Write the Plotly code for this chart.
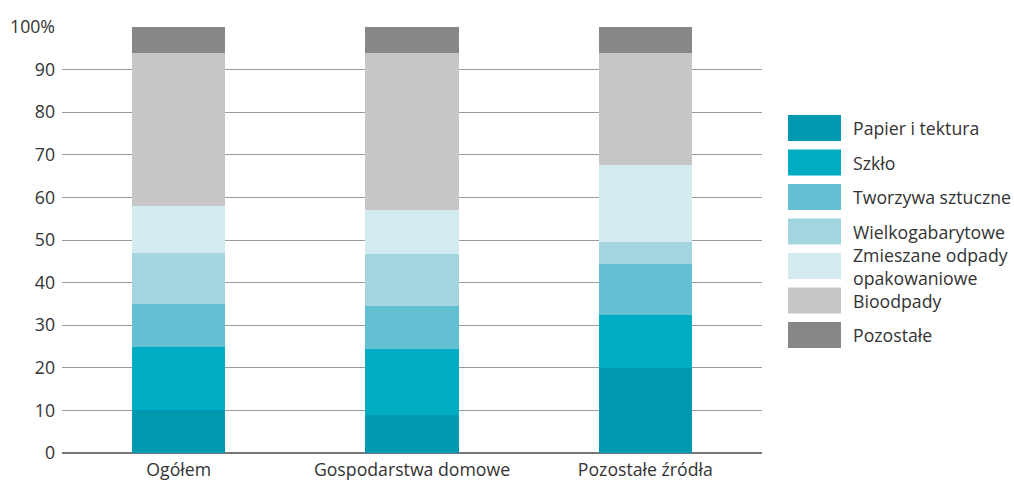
import plotly.graph_objects as go

categories = ["Ogółem", "Gospodarstwa domowe", "Pozostałe źródła"]
series_names = ["Papier i tektura", "Szkło", "Tworzywa sztuczne", "Wielkogabarytowe",
                "Zmieszane odpady<br>opakowaniowe", "Bioodpady", "Pozostałe"]
papier = [10, 9, 20]
szklo = [15, 15.4, 12.3]
tworzywa = [10, 10.2, 12]
wielko = [12, 12.2, 5.2]
zmieszane = [11, 10.3, 18.1]
bio = [36, 36.9, 26.4]
pozostale = [6, 6, 6]
series_values = [papier, szklo, tworzywa, wielko, zmieszane, bio, pozostale]
colors = ["#0099b0", "#00abc4", "#62c0d2", "#a3d5e1", "#d3eaf1", "#c6c6c6", "#878787"]
tick_vals = [0, 10, 20, 30, 40, 50, 60, 70, 80, 90, 100]
tick_text = ["0", "10", "20", "30", "40", "50", "60", "70", "80", "90", "100%"]

FONT = "Open Sans"
FS = 17.7
fig = go.Figure()
for name, vals, col in zip(series_names, series_values, colors):
    fig.add_trace(go.Bar(x=categories, y=vals, name=name.replace("<br>", " "), marker_color=col,
                         marker_line_width=0, showlegend=False))

W, H = 1014, 484
ml, mr, mt, mb = 62, 252, 27, 31
fig.update_layout(
    width=W, height=H, barmode="stack", bargap=0.6,
    margin=dict(l=ml, r=mr, t=mt, b=mb),
    paper_bgcolor="white", plot_bgcolor="white",
    font=dict(family=FONT, size=FS, color="#333333"),
    xaxis=dict(showgrid=False, showline=False, ticks="", tickfont=dict(size=FS),
               ticklabelstandoff=4, automargin=False, fixedrange=True),
    yaxis=dict(range=[0, 100], tickvals=tick_vals, ticktext=tick_text,
               showgrid=True, gridcolor="#9a9a9a", gridwidth=1,
               zeroline=True, zerolinecolor="#777777", zerolinewidth=1.5,
               ticks="", ticklabelstandoff=6, tickfont=dict(size=FS),
               automargin=False, fixedrange=True),
)

# custom legend (large swatches)
plot_h = H - mt - mb
def py(pix):
    return 1 - (pix - mt) / plot_h  # paper y (plot domain) from pixel y
def px(pix):
    return (pix - ml) / (W - ml - mr)

row_top0 = 115
row_step = 34.5
sw_h = 26
for i, (name, col) in enumerate(zip(series_names, colors)):
    top = row_top0 + i * row_step
    fig.add_shape(type="rect", xref="paper", yref="paper",
                  x0=px(788), x1=px(841), y0=py(top + sw_h), y1=py(top),
                  fillcolor=col, line_width=0)
    fig.add_annotation(xref="paper", yref="paper", x=px(851), y=py(top + sw_h / 2),
                       text=name, showarrow=False, xanchor="left", yanchor="middle",
                       align="left", font=dict(size=FS, color="#333333"))

fig.write_html("out.html")
